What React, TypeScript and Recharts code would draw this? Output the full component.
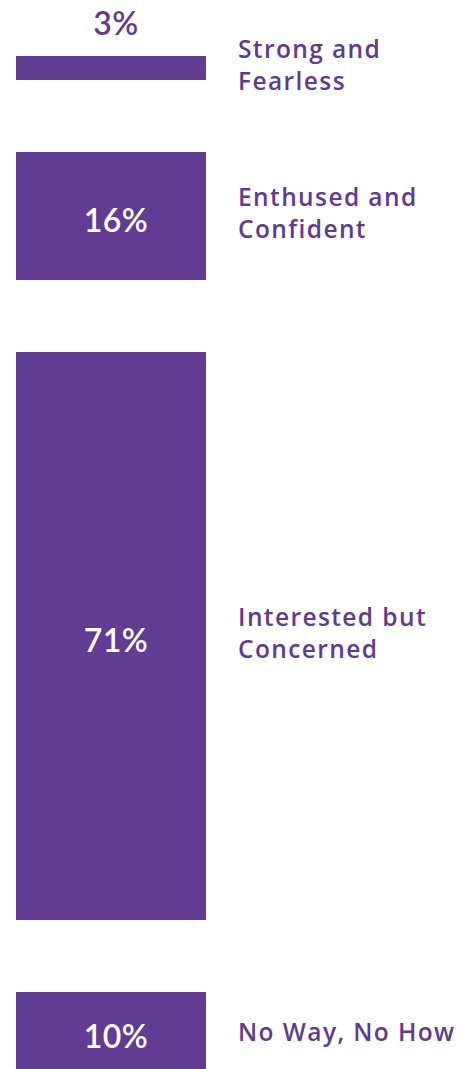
import { BarChart, Bar, XAxis, YAxis, LabelList } from "recharts";

const categories = [
  "Strong and Fearless",
  "Enthused and Confident",
  "Interested but Concerned",
  "No Way, No How",
];
const labelLines = [
  ["Strong and", "Fearless"],
  ["Enthused and", "Confident"],
  ["Interested but", "Concerned"],
  ["No Way, No How"],
];
const shares = [3, 16, 71, 10]; // percent, top to bottom

const PURPLE = "#623B93";
const TEXT = "#5F3B93";
const VALUE_FONT = "Lato, sans-serif";
const LABEL_FONT = "'Open Sans', sans-serif";
const GAP = 9; // blank space between segments, in percent units

// one stacked column: bottom segment first
const row: Record<string, number | string> = { name: "all" };
const order: string[] = [];
for (let i = shares.length - 1; i >= 0; i--) {
  row[`s${i}`] = shares[i];
  order.push(`s${i}`);
  if (i > 0) {
    row[`g${i}`] = GAP;
    order.push(`g${i}`);
  }
}
const total = shares.reduce((a, b) => a + b, 0) + GAP * (shares.length - 1);

const SegmentLabel = (props: any, idx: number) => {
  const { x, y, width, height } = props;
  const cx = x + width / 2 + 5;
  const cy = y + height / 2;
  const small = height < 40;
  const lines = labelLines[idx];
  const lx = x + width + 32;
  const firstBaseline = lines.length > 1 ? cy - 10 : cy + 9;
  return (
    <g>
      <text
        x={cx}
        y={small ? y - 21 : cy + 16}
        textAnchor="middle"
        fill={small ? TEXT : "#ffffff"}
        fontSize={32}
        fontWeight={600}
        fontFamily={VALUE_FONT}
        letterSpacing={0.5}
      >
        {`${shares[idx]}%`}
      </text>
      <text
        x={lx}
        y={firstBaseline}
        fill={TEXT}
        fontSize={24.5}
        fontWeight={600}
        fontFamily={LABEL_FONT}
        letterSpacing={1.4}
      >
        {lines.map((l, k) => (
          <tspan key={k} x={lx} dy={k === 0 ? 0 : 32}>
            {l}
          </tspan>
        ))}
      </text>
    </g>
  );
};

export default function App() {
  return (
    <div style={{ position: "absolute", top: 0, left: 0, width: 471, height: 1069, overflow: "hidden", background: "#fff" }}>
      <BarChart
        width={471}
        height={1072}
        data={[row]}
        margin={{ top: 56, right: 265, left: 16, bottom: 0 }}
        barCategoryGap={0}
        barGap={0}
      >
        <XAxis dataKey="name" type="category" hide padding={{ left: 0, right: 0 }} />
        <YAxis type="number" domain={[0, total]} hide />
        {order.map((key) => {
          const isGap = key.startsWith("g");
          const idx = Number(key.slice(1));
          return (
            <Bar
              key={key}
              dataKey={key}
              stackId="a"
              fill={isGap ? "transparent" : PURPLE}
              isAnimationActive={false}
              name={isGap ? undefined : categories[idx]}
            >
              {!isGap && <LabelList dataKey={key} content={(p: any) => SegmentLabel(p, idx)} />}
            </Bar>
          );
        })}
      </BarChart>
    </div>
  );
}
